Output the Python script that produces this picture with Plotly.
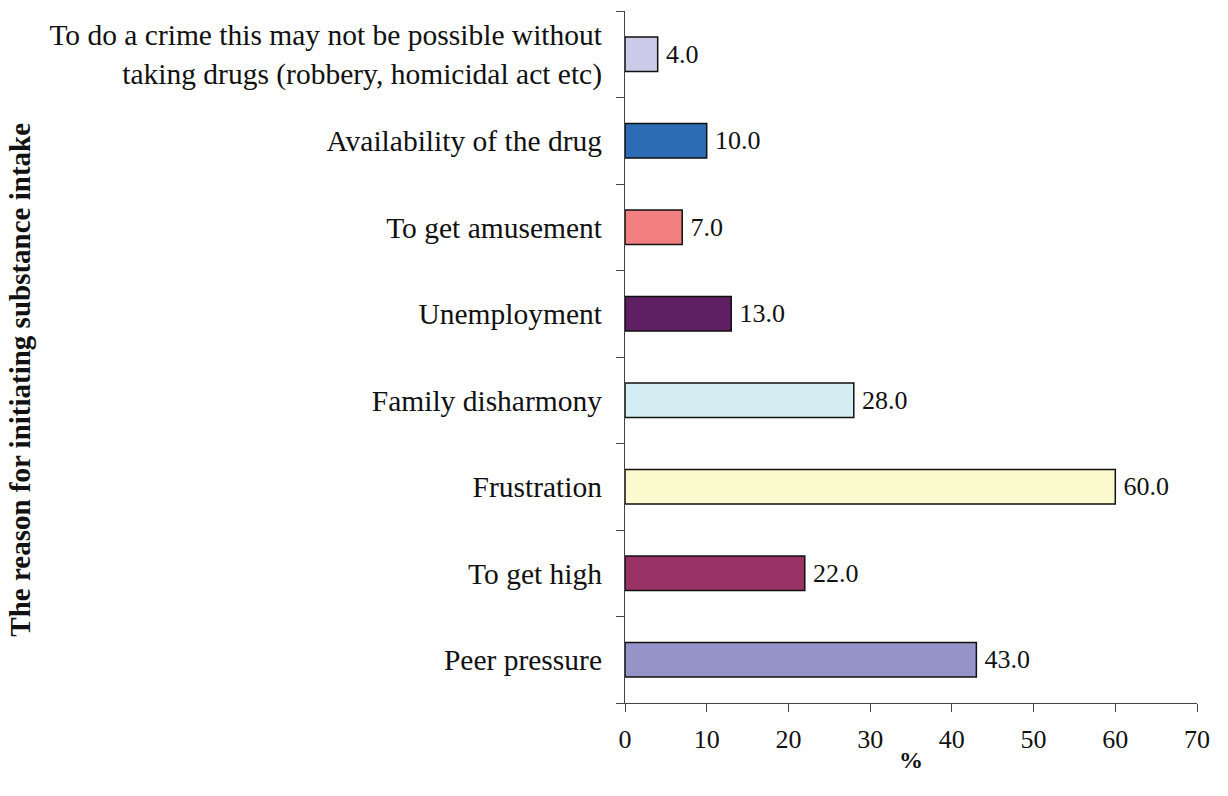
import plotly.graph_objects as go

categories = [
    "Peer pressure",
    "To get high",
    "Frustration",
    "Family disharmony",
    "Unemployment",
    "To get amusement",
    "Availability of the drug",
    "To do a crime this may not be possible without<br>taking drugs (robbery, homicidal act etc)",
]
values = [43.0, 22.0, 60.0, 28.0, 13.0, 7.0, 10.0, 4.0]
colors = ["#9494C8", "#993366", "#FBF9CE", "#D3EDF3", "#5F1F62", "#F38080", "#2B6CB5", "#CCCAE8"]
x_ticks = [0, 10, 20, 30, 40, 50, 60, 70]

FONT = "Liberation Serif, Times New Roman, serif"

fig = go.Figure(go.Bar(
    x=values, y=categories, orientation="h",
    marker=dict(color=colors, line=dict(color="#111111", width=1.5)),
    width=0.4,
    texttemplate="\u2009%{x:.1f}", textposition="outside", cliponaxis=False,
    textfont=dict(family=FONT, size=26, color="#111111"),
))

fig.update_layout(
    width=1228, height=796,
    margin=dict(l=625, r=31, t=11, b=93),
    plot_bgcolor="white", paper_bgcolor="white",
    font=dict(family=FONT, size=26, color="#111111"),
    showlegend=False,
    xaxis=dict(range=[0, 70], tickvals=x_ticks, ticks="outside", ticklen=8, tickcolor="#444",
               showline=True, linecolor="#444", linewidth=1.2, showgrid=False, zeroline=False,
               ticklabelstandoff=5, tickfont=dict(size=26)),
    yaxis=dict(type="category", tickson="boundaries", ticks="outside", ticklen=8, tickcolor="#444",
               showline=True, linecolor="#444", linewidth=1.2, showgrid=False,
               ticklabelstandoff=16, tickfont=dict(size=29.5), range=[-0.5, 7.5]),
    annotations=[
        dict(text="<b>%</b>", xref="paper", yref="paper", x=0.5, y=-0.083, yanchor="middle",
             showarrow=False, font=dict(family=FONT, size=24)),
        dict(text="<b>The reason for initiating substance intake</b>", xref="paper", yref="paper",
             x=-1.058, y=0.467, xanchor="center", yanchor="middle", textangle=-90,
             showarrow=False, font=dict(family=FONT, size=29)),
    ],
)

fig.write_html("out.html")
